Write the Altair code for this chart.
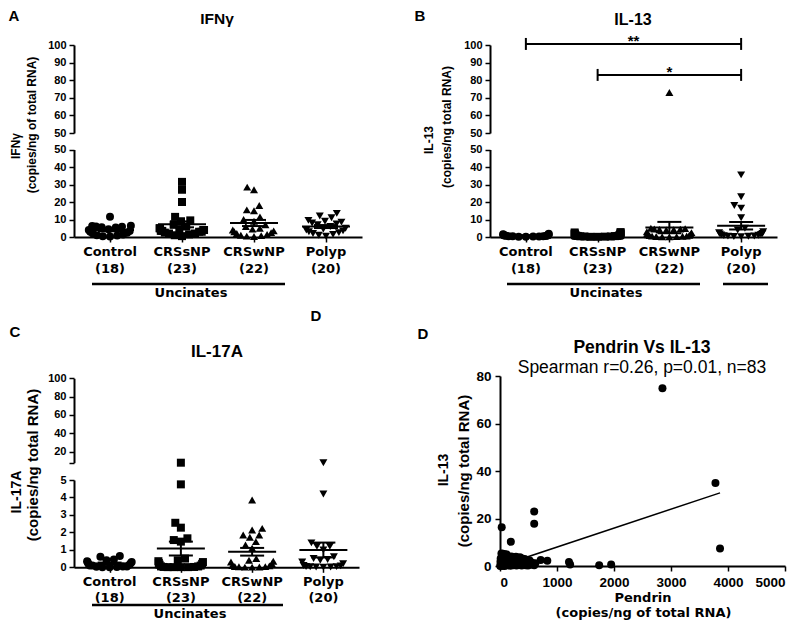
import math
import altair as alt
import pandas as pd

# ---------------- data ----------------
groups = ["Control", "CRSsNP", "CRSwNP", "Polyp"]
group_counts = ["(18)", "(23)", "(22)", "(20)"]
group_shapes = ["circle", "square", "triangle-up", "triangle-down"]

ifng_control = [11.6, 6.5, 6.3, 6.0, 5.8, 5.6, 5.4, 4.5, 4.0, 3.5, 3.0, 2.5, 2.0, 1.5, 1.0, 0.8, 0.5, 0.3]
ifng_crssnp = [31.5, 27, 20, 11.5, 9.5, 9, 7, 6, 5, 5, 4.5, 4, 4, 3.5, 3.5, 3, 3, 2.5, 2, 2, 1.5, 1, 0.5]
ifng_crswnp = [28.5, 27, 18, 15.5, 15, 11.5, 10, 9, 7, 6, 5, 4.5, 4, 3.5, 3, 2.5, 2, 1.5, 1, 0.8, 0.5, 0.3]
ifng_polyp = [13.5, 12, 11, 9.5, 9, 8.5, 8, 7.5, 7, 6, 5, 4.5, 4, 3.5, 3, 2.5, 2, 1.5, 1, 0.5]

il13_control = [1.8, 1.6, 1.5, 1.3, 1.2, 1.0, 1.0, 0.9, 0.8, 0.7, 0.6, 0.5, 0.5, 0.4, 0.3, 0.3, 0.2, 0.1]
il13_crssnp = [2.8, 2.6, 2.4, 2.0, 1.8, 1.6, 1.5, 1.4, 1.2, 1.1, 1.0, 0.9, 0.8, 0.7, 0.6, 0.6, 0.5, 0.4, 0.3, 0.3, 0.2, 0.1, 0.1]
il13_crswnp = [73, 5, 4.8, 4.6, 4.5, 4.3, 4.2, 4, 3, 2.5, 2, 1.5, 1.2, 1, 0.8, 0.6, 0.5, 0.4, 0.3, 0.2, 0.1, 0.1]
il13_polyp = [35.5, 23, 18, 16.5, 11, 5, 4, 3, 2.5, 2, 1.8, 1.5, 1.2, 1, 0.8, 0.6, 0.5, 0.4, 0.3, 0.2]

il17_control = [0.65, 0.6, 0.45, 0.4, 0.35, 0.3, 0.3, 0.25, 0.2, 0.15, 0.1, 0.1, 0.05, 0.05, 0.03, 0.02, 0.01, 0.01]
il17_crssnp = [8.0, 4.75, 2.55, 2.27, 1.66, 1.56, 1.47, 0.5, 0.4, 0.35, 0.3, 0.25, 0.2, 0.15, 0.1, 0.05, 0.05,
               0.02, 0.02, 0.01, 0.01, 0.01, 0.01]
il17_crswnp = [3.85, 2.23, 2.14, 1.85, 1.85, 1.72, 1.47, 1.28, 1.1, 0.5, 0.4, 0.35, 0.3, 0.2, 0.1, 0.08, 0.05,
               0.04, 0.03, 0.02, 0.01, 0.01]
il17_polyp = [8.0, 4.2, 1.4, 1.2, 1.2, 1.0, 0.6, 0.5, 0.45, 0.4, 0.3, 0.2, 0.1, 0.08, 0.05, 0.04, 0.03, 0.02, 0.02, 0.01]

sig_start = [0, 1]
sig_end = [3, 3]
sig_level = [100.6, 83.0]
sig_label = ["**", "*"]

pendrin = [2850, 3780, 3860, 600, 600, 30, 190, 714, 830, 1210, 1230, 1740, 1950,
           10, 15, 20, 25, 30, 35, 40, 45, 50, 55, 60, 65, 70, 80, 90, 95, 100, 110, 120, 130,
           140, 150, 160, 170, 180, 190, 200, 210, 220, 230, 240, 250, 260, 270, 280, 290, 300, 310,
           320, 330, 340, 350, 360, 370, 380, 390, 400, 410, 420, 430, 440, 450, 460, 470, 480, 490,
           500, 520, 540, 560, 580, 600, 620, 5, 8, 12, 18, 28, 75, 140]
il13_pair = [74.8, 35, 7.4, 23, 17.8, 16.3, 10.2, 2.5, 2.2, 1.7, 0.6, 0.3, 0.6,
             0.2, 1.0, 2.5, 5.3, 0.5, 3.8, 0.1, 1.5, 5.2, 0.8, 2.0, 4.5, 0.3, 1.2, 5.0, 0.6, 3.0, 0.2, 4.8, 1.8,
             0.4, 2.6, 0.9, 3.5, 0.1, 1.4, 4.0, 0.7, 2.2, 0.3, 1.1, 3.6, 0.5, 1.9, 3.9, 0.2, 2.8, 0.9,
             3.3, 0.4, 1.6, 3.7, 0.6, 2.4, 0.2, 3.2, 1.0, 2.0, 0.4, 2.9, 1.3, 0.3, 2.6, 0.8, 1.7, 0.2,
             1.1, 2.3, 0.5, 1.4, 0.9, 0.3, 1.2, 0.0, 1.8, 3.2, 0.6, 2.1, 0.0, 2.9]
fit_pendrin = [0, 3860]
fit_il13 = [0.0, 30.8]

# ---------------- layout ----------------
W, H, M = 784, 613, 8


def c(v):
    return v - M


def swarm_offsets(ypix, diam=7.5, limit=23.0):
    n = len(ypix)
    order = sorted(range(n), key=lambda i: -ypix[i])
    placed = []
    xs = [0.0] * n
    for i in order:
        y = ypix[i]
        cands = [0.0]
        for qx, qy in placed:
            dy = abs(qy - y)
            if dy < diam:
                dx = math.sqrt(diam * diam - dy * dy)
                cands.extend([qx + dx, qx - dx])
        cands.sort(key=lambda v: (abs(v), v))
        chosen = 0.0
        for cx in cands:
            if all((cx - qx) ** 2 + (y - qy) ** 2 >= diam * diam - 1e-6 for qx, qy in placed):
                chosen = cx
                break
        xs[i] = chosen
        placed.append((chosen, y))
    return [limit * math.tanh(x / limit) for x in xs]


AX = dict(grid=False, title=None, domainColor="black", domainWidth=2, tickColor="black", tickWidth=1.5,
          tickSize=5, labelColor="black", labelFont="Liberation Sans", labelFontWeight="bold",
          labelFontSize=11, labelPadding=3, labelFlush=False, labelOverlap=False, labelBound=False)

panels = [
    dict(values=[ifng_control, ifng_crssnp, ifng_crswnp, ifng_polyp], xr=(74, 362), brk=50,
         lo_dom=(0, 50), lo_rng=(237, 149.5), hi_dom=(50, 100), hi_rng=(133, 45),
         lo_ticks=[0, 10, 20, 30, 40, 50], hi_ticks=[50, 60, 70, 80, 90, 100], hi_expr="datum.label",
         name_y=252, count_y=268.5, sig=False),
    dict(values=[il13_control, il13_crssnp, il13_crswnp, il13_polyp], xr=(490, 777), brk=50,
         lo_dom=(0, 50), lo_rng=(237, 149.5), hi_dom=(50, 100), hi_rng=(133, 45),
         lo_ticks=[0, 10, 20, 30, 40, 50], hi_ticks=[50, 60, 70, 80, 90, 100], hi_expr="datum.label",
         name_y=252, count_y=268.5, sig=True),
    dict(values=[il17_control, il17_crssnp, il17_crswnp, il17_polyp], xr=(74, 359), brk=5,
         lo_dom=(0, 5), lo_rng=(567.3, 480), hi_dom=(8, 100), hi_rng=(462.7, 378.3),
         lo_ticks=[0, 1, 2, 3, 4, 5], hi_ticks=[8, 20, 40, 60, 80, 100],
         hi_expr="datum.value < 10 ? '' : datum.label",
         name_y=582, count_y=597.5, sig=False),
]


def ypix(v, p):
    if v > p["brk"]:
        d0, d1 = p["hi_dom"]
        r0, r1 = p["hi_rng"]
    else:
        d0, d1 = p["lo_dom"]
        r0, r1 = p["lo_rng"]
    return r0 + (v - d0) / (d1 - d0) * (r1 - r0)


shape_scale = alt.Scale(domain=groups, range=group_shapes)
layers = []

for p in panels:
    band = (p["xr"][1] - p["xr"][0]) / 4.0
    xs = alt.Scale(domain=[-0.5, 3.5], range=[c(p["xr"][0]), c(p["xr"][1])], nice=False, zero=False)
    ylo = alt.Scale(domain=list(p["lo_dom"]), range=[c(p["lo_rng"][0]), c(p["lo_rng"][1])], nice=False, zero=False)
    yhi = alt.Scale(domain=list(p["hi_dom"]), range=[c(p["hi_rng"][0]), c(p["hi_rng"][1])], nice=False, zero=False)

    rows, stats, caps = [], [], []
    for gi, vals in enumerate(p["values"]):
        offs = swarm_offsets([ypix(v, p) for v in vals])
        for v, o in zip(vals, offs):
            rows.append(dict(grp=groups[gi], value=v, seg="hi" if v > p["brk"] else "lo", xpos=gi + o / band))
        n = len(vals)
        mean = sum(vals) / n
        sd = math.sqrt(sum((v - mean) ** 2 for v in vals) / (n - 1))
        sem = sd / math.sqrt(n)
        stats.append(dict(gi=gi, mean=mean, lo=max(mean - sem, 0), hi=mean + sem,
                          m0=gi - 24 / band, m1=gi + 24 / band))
        for yv in (max(mean - sem, 0), mean + sem):
            caps.append(dict(y=yv, c0=gi - 12 / band, c1=gi + 12 / band))
    df = pd.DataFrame(rows)
    dstat = pd.DataFrame(stats)
    dcap = pd.DataFrame(caps)

    x_axis = alt.Axis(orient="bottom", offset=c(p["lo_rng"][0]) - H, values=[0, 1, 2, 3], labels=False, **AX)
    lo_axis = alt.Axis(orient="left", offset=-c(p["xr"][0]), values=p["lo_ticks"], **AX)
    hi_axis = alt.Axis(orient="left", offset=-c(p["xr"][0]), values=p["hi_ticks"], labelExpr=p["hi_expr"], **AX)

    base = alt.Chart(df)
    layers.append(base.transform_filter("datum.seg == 'lo'").mark_point(
        filled=True, color="black", opacity=1, size=64, strokeWidth=0).encode(
        x=alt.X("xpos:Q", scale=xs, axis=x_axis),
        y=alt.Y("value:Q", scale=ylo, axis=lo_axis),
        shape=alt.Shape("grp:N", scale=shape_scale, legend=None)))
    layers.append(base.transform_filter("datum.seg == 'hi'").mark_point(
        filled=True, color="black", opacity=1, size=64, strokeWidth=0).encode(
        x=alt.X("xpos:Q", scale=xs, axis=None),
        y=alt.Y("value:Q", scale=yhi, axis=hi_axis),
        shape=alt.Shape("grp:N", scale=shape_scale, legend=None)))
    layers.append(alt.Chart(dstat).mark_rule(color="black", strokeWidth=2).encode(
        x=alt.X("m0:Q", scale=xs, axis=None), x2="m1:Q", y=alt.Y("mean:Q", scale=ylo, axis=None)))
    layers.append(alt.Chart(dstat).mark_rule(color="black", strokeWidth=2).encode(
        x=alt.X("gi:Q", scale=xs, axis=None), y=alt.Y("lo:Q", scale=ylo, axis=None), y2="hi:Q"))
    layers.append(alt.Chart(dcap).mark_rule(color="black", strokeWidth=2).encode(
        x=alt.X("c0:Q", scale=xs, axis=None), x2="c1:Q", y=alt.Y("y:Q", scale=ylo, axis=None)))

    dlab = pd.DataFrame(dict(gi=[0, 1, 2, 3], name=groups, count=group_counts))
    layers.append(alt.Chart(dlab).mark_text(font="DejaVu Sans", fontWeight="bold", fontSize=13,
                                            baseline="middle", align="center", color="black").encode(
        x=alt.X("gi:Q", scale=xs, axis=None), y=alt.value(c(p["name_y"])), text="name:N"))
    layers.append(alt.Chart(dlab).mark_text(font="DejaVu Sans", fontWeight="bold", fontSize=13,
                                            baseline="middle", align="center", color="black").encode(
        x=alt.X("gi:Q", scale=xs, axis=None), y=alt.value(c(p["count_y"])), text="count:N"))

    if p["sig"]:
        dsig = pd.DataFrame(dict(x0=sig_start, x1=sig_end, y=sig_level, lab=sig_label))
        dsig["xm"] = (dsig["x0"] + dsig["x1"]) / 2
        dend = pd.DataFrame(dict(x=sig_start + sig_end, ya=[v - 3.4 for v in sig_level] * 2,
                                 yb=[v + 3.4 for v in sig_level] * 2))
        layers.append(alt.Chart(dsig).mark_rule(color="black", strokeWidth=2).encode(
            x=alt.X("x0:Q", scale=xs, axis=None), x2="x1:Q", y=alt.Y("y:Q", scale=yhi, axis=None)))
        layers.append(alt.Chart(dend).mark_rule(color="black", strokeWidth=2).encode(
            x=alt.X("x:Q", scale=xs, axis=None), y=alt.Y("ya:Q", scale=yhi, axis=None), y2="yb:Q"))
        layers.append(alt.Chart(dsig).mark_text(font="Liberation Sans", fontWeight="bold", fontSize=15,
                                                baseline="alphabetic", align="center", dy=2, color="black").encode(
            x=alt.X("xm:Q", scale=xs, axis=None), y=alt.Y("y:Q", scale=yhi, axis=None), text="lab:N"))

# ---------- panel D ----------
dxs = alt.Scale(domain=[0, 5000], range=[c(500), c(785)], nice=False, zero=False)
dys = alt.Scale(domain=[0, 80], range=[c(566), c(376)], nice=False, zero=False)
AXD = dict(AX)
AXD["labelFontSize"] = 13.5
AXD["labelPadding"] = 4
AXDX = dict(AXD)
AXDX["labelFlush"] = True
ddf = pd.DataFrame(dict(pendrin=pendrin, il13=il13_pair))
layers.append(alt.Chart(ddf).mark_circle(color="black", opacity=1, size=64).encode(
    x=alt.X("pendrin:Q", scale=dxs, axis=alt.Axis(orient="bottom", offset=c(566) - H, format="d",
                                                  values=[0, 1000, 2000, 3000, 4000, 5000], **AXDX)),
    y=alt.Y("il13:Q", scale=dys, axis=alt.Axis(orient="left", offset=-c(500), format="d",
                                               values=[0, 20, 40, 60, 80], **AXD))))
layers.append(alt.Chart(pd.DataFrame(dict(pendrin=fit_pendrin, il13=fit_il13))).mark_line(
    color="black", strokeWidth=1.5).encode(
    x=alt.X("pendrin:Q", scale=dxs, axis=None), y=alt.Y("il13:Q", scale=dys, axis=None)))

# ---------- free text and underlines (page positions) ----------
txt_bold = [
    ("A", 14, 16, 15), ("B", 420, 16, 15), ("C", 15, 332, 15), ("D", 316, 316, 15), ("D", 423, 334, 15),
    ("IFNγ", 217, 19, 15.5), ("IL-13", 633, 20, 16), ("IL-17A", 217, 351.5, 17), ("Pendrin Vs IL-13", 642, 348, 17.5),
]
txt_dejavu = [
    ("Uncinates", 191, 292.5, 13), ("Uncinates", 606, 292.5, 13), ("Uncinates", 190, 614, 13),
    ("Pendrin", 643, 598, 13), ("(copies/ng of total RNA)", 643.5, 612.5, 13),
]
txt_rot = [
    ("IFNγ", 16, 146, 12), ("(copies/ng of total RNA)", 32, 125, 12),
    ("IL-13", 429, 140, 12), ("(copies/ng total RNA)", 447, 127, 12),
    ("IL-17A", 17, 492, 14), ("(copies/ng total RNA)", 33, 465, 15),
    ("IL-13", 444, 470, 14), ("(copies/ng total RNA)", 463.5, 471, 15),
]
txt_reg = [("Spearman r=0.26, p=0.01, n=83", 642, 368, 17.5)]
underline = [(92, 285, 284), (507, 700, 284), (723, 768, 284), (92, 283, 605)]


def text_layer(items, font, weight, angle=0):
    d = pd.DataFrame(dict(t=[i[0] for i in items], x=[c(i[1]) for i in items],
                          y=[c(i[2]) for i in items], s=[i[3] for i in items]))
    return alt.Chart(d).mark_text(font=font, fontWeight=weight, angle=angle, baseline="middle",
                                  align="center", color="black").encode(
        x=alt.X("x:Q", scale=None), y=alt.Y("y:Q", scale=None), text="t:N", size=alt.Size("s:Q", scale=None))


layers.append(text_layer(txt_bold, "Liberation Sans", "bold"))
layers.append(text_layer(txt_dejavu, "DejaVu Sans", "bold"))
layers.append(text_layer(txt_rot, "Liberation Sans", "bold", 270))
layers.append(text_layer(txt_reg, "Liberation Sans", "normal"))
ul = pd.DataFrame(dict(x0=[c(u[0]) for u in underline], x1=[c(u[1]) for u in underline],
                       y=[c(u[2]) for u in underline]))
layers.append(alt.Chart(ul).mark_rule(color="black", strokeWidth=2.5).encode(
    x=alt.X("x0:Q", scale=None), x2="x1:Q", y=alt.Y("y:Q", scale=None)))

chart = alt.layer(*layers).resolve_scale(
    x="independent", y="independent", shape="independent", size="independent"
).resolve_axis(x="independent", y="independent").properties(
    width=W, height=H, padding=0, autosize=alt.AutoSizeParams(type="none")
).configure_view(stroke=None)

chart.save("out.html", embed_options={"renderer": "svg", "actions": False})
